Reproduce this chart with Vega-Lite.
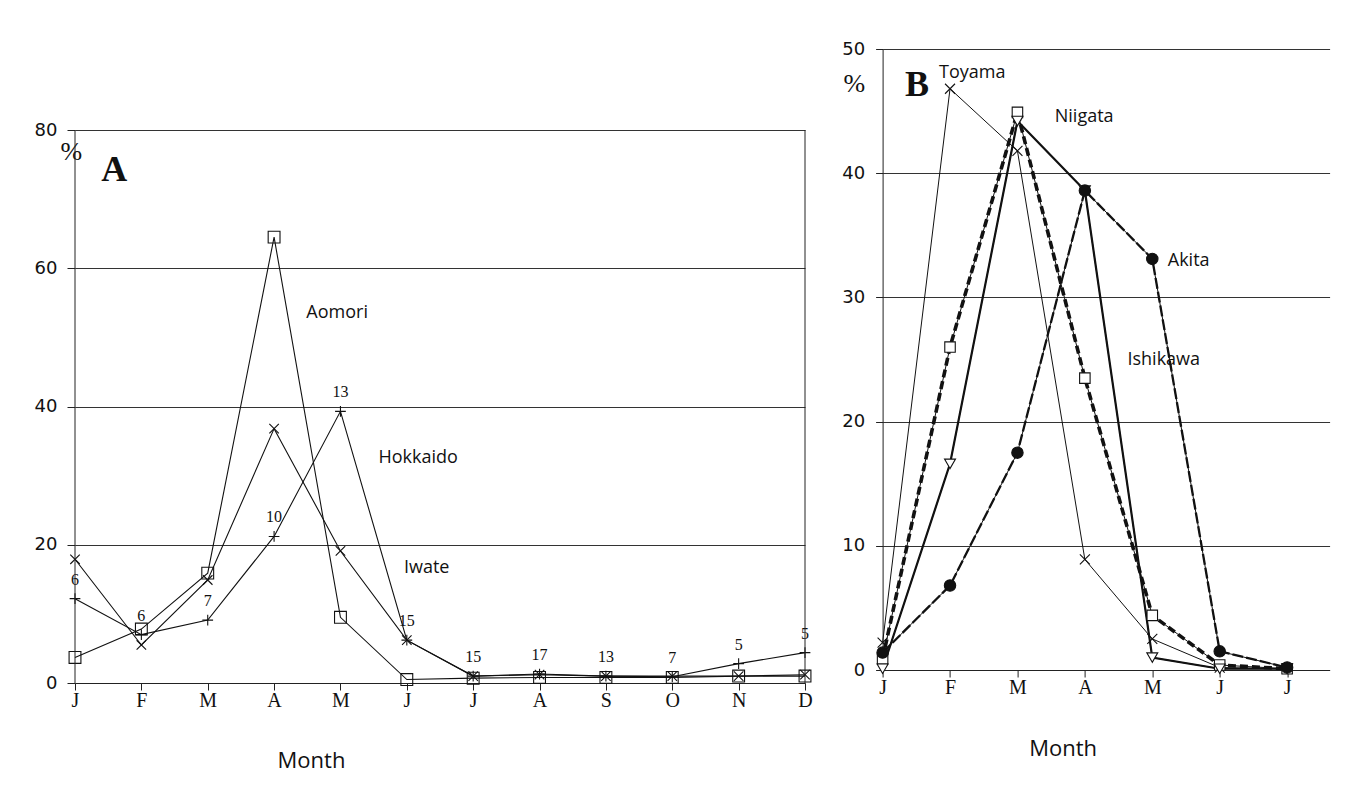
{
  "$schema": "https://vega.github.io/schema/vega-lite/v6.json",
  "background": "white",
  "padding": {"left": 34, "top": 40, "right": 5, "bottom": 5},
  "bounds": "flush",
  "spacing": 77.6,
  "resolve": {"scale": {"shape": "independent", "size": "independent", "fill": "independent"}},
  "config": {"view": {"stroke": null}},
  "datasets": {
    "a": [
      {"site": "Aomori", "m": 1, "pct": 3.7},
      {"site": "Aomori", "m": 2, "pct": 7.8},
      {"site": "Aomori", "m": 3, "pct": 15.9},
      {"site": "Aomori", "m": 4, "pct": 64.5},
      {"site": "Aomori", "m": 5, "pct": 9.5},
      {"site": "Aomori", "m": 6, "pct": 0.5},
      {"site": "Aomori", "m": 7, "pct": 0.7},
      {"site": "Aomori", "m": 8, "pct": 0.8},
      {"site": "Aomori", "m": 9, "pct": 0.8},
      {"site": "Aomori", "m": 10, "pct": 0.8},
      {"site": "Aomori", "m": 11, "pct": 1.0},
      {"site": "Aomori", "m": 12, "pct": 1.0},
      {"site": "Hokkaido", "m": 1, "pct": 12.2, "n": "6"},
      {"site": "Hokkaido", "m": 2, "pct": 7.0, "n": "6"},
      {"site": "Hokkaido", "m": 3, "pct": 9.1, "n": "7"},
      {"site": "Hokkaido", "m": 4, "pct": 21.2, "n": "10"},
      {"site": "Hokkaido", "m": 5, "pct": 39.3, "n": "13"},
      {"site": "Hokkaido", "m": 6, "pct": 6.2, "n": "15"},
      {"site": "Hokkaido", "m": 7, "pct": 1.0, "n": "15"},
      {"site": "Hokkaido", "m": 8, "pct": 1.3, "n": "17"},
      {"site": "Hokkaido", "m": 9, "pct": 1.0, "n": "13"},
      {"site": "Hokkaido", "m": 10, "pct": 0.9, "n": "7"},
      {"site": "Hokkaido", "m": 11, "pct": 2.8, "n": "5"},
      {"site": "Hokkaido", "m": 12, "pct": 4.4, "n": "5"},
      {"site": "Iwate", "m": 1, "pct": 17.9},
      {"site": "Iwate", "m": 2, "pct": 5.5},
      {"site": "Iwate", "m": 3, "pct": 14.9},
      {"site": "Iwate", "m": 4, "pct": 36.8},
      {"site": "Iwate", "m": 5, "pct": 19.1},
      {"site": "Iwate", "m": 6, "pct": 6.2},
      {"site": "Iwate", "m": 7, "pct": 1.0},
      {"site": "Iwate", "m": 8, "pct": 1.2},
      {"site": "Iwate", "m": 9, "pct": 1.0},
      {"site": "Iwate", "m": 10, "pct": 1.0},
      {"site": "Iwate", "m": 11, "pct": 1.0},
      {"site": "Iwate", "m": 12, "pct": 1.2}
    ],
    "alab": [
      {"label": "Aomori", "m": 4.95, "pct": 53.5},
      {"label": "Hokkaido", "m": 6.17, "pct": 32.5},
      {"label": "Iwate", "m": 6.3, "pct": 16.6}
    ],
    "b": [
      {"site": "Toyama", "m": 1, "pct": 2.2},
      {"site": "Toyama", "m": 2, "pct": 46.8},
      {"site": "Toyama", "m": 3, "pct": 41.8},
      {"site": "Toyama", "m": 4, "pct": 8.9},
      {"site": "Toyama", "m": 5, "pct": 2.5},
      {"site": "Toyama", "m": 6, "pct": 0.2},
      {"site": "Toyama", "m": 7, "pct": 0.1},
      {"site": "Niigata", "m": 1, "pct": 0.9},
      {"site": "Niigata", "m": 2, "pct": 26.0},
      {"site": "Niigata", "m": 3, "pct": 44.9},
      {"site": "Niigata", "m": 4, "pct": 23.5},
      {"site": "Niigata", "m": 5, "pct": 4.4},
      {"site": "Niigata", "m": 6, "pct": 0.4},
      {"site": "Niigata", "m": 7, "pct": 0.1},
      {"site": "Ishikawa", "m": 1, "pct": 0.1},
      {"site": "Ishikawa", "m": 2, "pct": 16.6},
      {"site": "Ishikawa", "m": 3, "pct": 44.2},
      {"site": "Ishikawa", "m": 4, "pct": 38.6},
      {"site": "Ishikawa", "m": 5, "pct": 1.0},
      {"site": "Ishikawa", "m": 6, "pct": 0.1},
      {"site": "Ishikawa", "m": 7, "pct": 0.1},
      {"site": "Akita", "m": 1, "pct": 1.4},
      {"site": "Akita", "m": 2, "pct": 6.8},
      {"site": "Akita", "m": 3, "pct": 17.5},
      {"site": "Akita", "m": 4, "pct": 38.6},
      {"site": "Akita", "m": 5, "pct": 33.1},
      {"site": "Akita", "m": 6, "pct": 1.5},
      {"site": "Akita", "m": 7, "pct": 0.2}
    ],
    "blab": [
      {"label": "Toyama", "m": 2.33, "pct": 48.1},
      {"label": "Niigata", "m": 3.99, "pct": 44.5},
      {"label": "Akita", "m": 5.54, "pct": 32.9},
      {"label": "Ishikawa", "m": 5.17, "pct": 25.0}
    ]
  },
  "hconcat": [
    {
      "width": 730,
      "height": 634,
      "encoding": {
        "x": {"field": "m", "type": "quantitative", "scale": {"domain": [1, 12], "nice": false, "zero": false},
          "axis": {"values": [1,2,3,4,5,6,7,8,9,10,11,12], "labelExpr": "['J','F','M','A','M','J','J','A','S','O','N','D'][datum.value-1]",
            "grid": false, "domain": true, "domainColor": "#222", "tickColor": "#222", "tickSize": 7,
            "labelFont": "Liberation Serif", "labelFontSize": 20, "labelColor": "#111", "labelPadding": 0, "labelFlush": false, "labelOverlap": false,
            "title": "Month", "titleFont": "Open Sans", "titleFontSize": 22, "titleFontWeight": "normal", "titleColor": "#111",
            "titleX": 236, "titleY": 77, "titleAlign": "center", "titleBaseline": "middle"}},
        "y": {"field": "pct", "type": "quantitative", "scale": {"domain": [0, 91.72], "nice": false},
          "axis": {"values": [0, 20, 40, 60, 80], "grid": true, "gridColor": "#333", "gridWidth": 1, "domain": false,
            "tickColor": "#222", "tickSize": 8, "labelFont": "DejaVu Sans", "labelFontSize": 18, "labelColor": "#111",
            "labelPadding": 10, "labelFlush": false, "title": null}}
      },
      "layer": [
        {
          "data": {"name": "a"},
          "mark": {"type": "line", "color": "#111", "strokeWidth": 1.1},
          "encoding": {"detail": {"field": "site"}}
        },
        {
          "data": {"name": "a"},
          "mark": {"type": "point", "filled": false, "color": "#111", "strokeWidth": 1.1, "opacity": 1},
          "encoding": {
            "shape": {"field": "site", "type": "nominal", "scale": {"domain": ["Aomori", "Hokkaido", "Iwate"], "range": ["square", "M-1,0L1,0M0,-1L0,1", "M-1,-1L1,1M1,-1L-1,1"]}, "legend": null},
            "size": {"field": "site", "type": "nominal", "scale": {"domain": ["Aomori", "Hokkaido", "Iwate"], "range": [140, 90, 100]}, "legend": null}
          }
        },
        {
          "data": {"name": "a"},
          "transform": [{"filter": "datum.site === 'Hokkaido'"}],
          "mark": {"type": "text", "font": "Liberation Serif", "fontSize": 16, "dy": -19, "color": "#111"},
          "encoding": {"text": {"field": "n"}}
        },
        {
          "data": {"name": "alab"},
          "mark": {"type": "text", "font": "Open Sans", "fontSize": 18, "color": "#111"},
          "encoding": {"text": {"field": "label"}}
        },
        {
          "data": {"values": [{"m": 1.59, "pct": 74.2}]},
          "mark": {"type": "text", "text": "A", "font": "Liberation Serif", "fontSize": 36, "fontWeight": "bold", "color": "#111"}
        },
        {
          "data": {"values": [{"m": 0.945, "pct": 76.8}]},
          "mark": {"type": "text", "text": "%", "font": "Liberation Serif", "fontSize": 26, "color": "#111"}
        },
        {
          "data": {"values": [{"m": 1, "pct": 0, "top": 80}, {"m": 12, "pct": 0, "top": 80}]},
          "mark": {"type": "rule", "color": "#222", "strokeWidth": 1},
          "encoding": {"y2": {"field": "top"}}
        }
      ]
    },
    {
      "width": 447,
      "height": 621,
      "encoding": {
        "x": {"field": "m", "type": "quantitative", "scale": {"domain": [1, 7.63], "nice": false, "zero": false},
          "axis": {"values": [1,2,3,4,5,6,7], "labelExpr": "['J','F','M','A','M','J','J'][datum.value-1]",
            "grid": false, "domain": true, "domainColor": "#222", "tickColor": "#222", "tickSize": 7,
            "labelFont": "Liberation Serif", "labelFontSize": 20, "labelColor": "#111", "labelPadding": 0, "labelFlush": false, "labelOverlap": false,
            "title": "Month", "titleFont": "Open Sans", "titleFontSize": 22, "titleFontWeight": "normal", "titleColor": "#111",
            "titleX": 180, "titleY": 78, "titleAlign": "center", "titleBaseline": "middle"}},
        "y": {"field": "pct", "type": "quantitative", "scale": {"domain": [0, 50], "nice": false},
          "axis": {"values": [0, 10, 20, 30, 40, 50], "grid": true, "gridColor": "#333", "gridWidth": 1, "domain": true, "domainColor": "#222",
            "tickColor": "#222", "tickSize": 7, "labelFont": "DejaVu Sans", "labelFontSize": 18, "labelColor": "#111",
            "labelPadding": 11, "labelFlush": false, "title": null}}
      },
      "layer": [
        {
          "data": {"name": "b"},
          "mark": {"type": "line", "color": "#111", "strokeWidth": 1},
          "encoding": {"detail": {"field": "site"}}
        },
        {
          "data": {"name": "b"},
          "transform": [{"filter": "datum.site === 'Niigata'"}],
          "mark": {"type": "line", "color": "#111", "strokeWidth": 3.6, "strokeDash": [8, 4]}
        },
        {
          "data": {"name": "b"},
          "transform": [{"filter": "datum.site === 'Ishikawa'"}],
          "mark": {"type": "line", "color": "#111", "strokeWidth": 2.2}
        },
        {
          "data": {"name": "b"},
          "transform": [{"filter": "datum.site === 'Akita'"}],
          "mark": {"type": "line", "color": "#111", "strokeWidth": 2.3, "strokeDash": [11, 3]}
        },
        {
          "data": {"name": "b"},
          "mark": {"type": "point", "stroke": "#111", "strokeWidth": 1.1, "opacity": 1},
          "encoding": {
            "shape": {"field": "site", "type": "nominal", "scale": {"domain": ["Toyama", "Niigata", "Ishikawa", "Akita"], "range": ["M-1,-1L1,1M1,-1L-1,1", "square", "triangle-down", "circle"]}, "legend": null},
            "fill": {"field": "site", "type": "nominal", "scale": {"domain": ["Toyama", "Niigata", "Ishikawa", "Akita"], "range": ["transparent", "white", "white", "#111"]}, "legend": null},
            "size": {"field": "site", "type": "nominal", "scale": {"domain": ["Toyama", "Niigata", "Ishikawa", "Akita"], "range": [100, 130, 110, 80]}, "legend": null}
          }
        },
        {
          "data": {"name": "blab"},
          "mark": {"type": "text", "font": "Open Sans", "fontSize": 18, "color": "#111"},
          "encoding": {"text": {"field": "label"}}
        },
        {
          "data": {"values": [{"m": 1.51, "pct": 47.1}]},
          "mark": {"type": "text", "text": "B", "font": "Liberation Serif", "fontSize": 36, "fontWeight": "bold", "color": "#111"}
        },
        {
          "data": {"values": [{"m": 0.58, "pct": 47.2}]},
          "mark": {"type": "text", "text": "%", "font": "Liberation Serif", "fontSize": 26, "color": "#111"}
        }
      ]
    }
  ]
}
